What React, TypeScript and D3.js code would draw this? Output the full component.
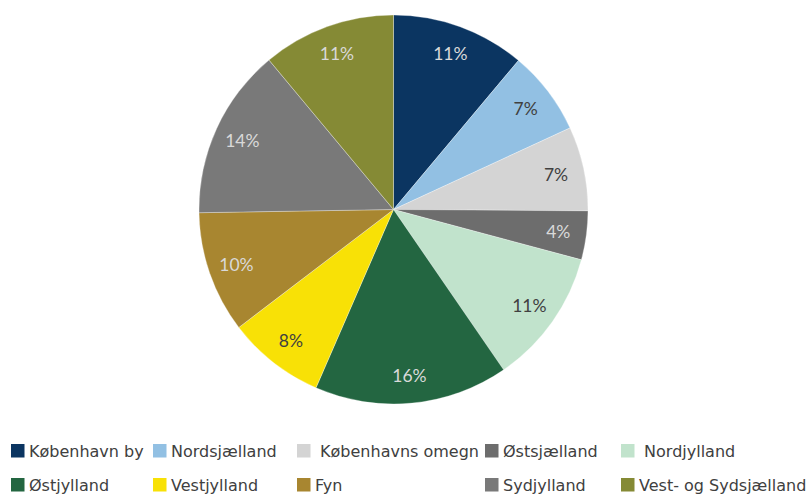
import React from "react";
import * as d3 from "d3";

const regions = [
  "København by",
  "Nordsjælland",
  "Københavns omegn",
  "Østsjælland",
  "Nordjylland",
  "Østjylland",
  "Vestjylland",
  "Fyn",
  "Sydjylland",
  "Vest- og Sydsjælland",
];
const shares = [11.1, 7.0, 7.0, 4.05, 11.25, 16.1, 8.1, 10.1, 14.2, 11.05];
const labels = ["11%", "7%", "7%", "4%", "11%", "16%", "8%", "10%", "14%", "11%"];
const colors = [
  "#0b3561",
  "#92c0e3",
  "#d4d4d4",
  "#6d6d6d",
  "#c1e3cc",
  "#236641",
  "#f8e106",
  "#a88630",
  "#797979",
  "#858a35",
];
const labelColors = [
  "#d9d9d9",
  "#404040",
  "#404040",
  "#d9d9d9",
  "#404040",
  "#d9d9d9",
  "#404040",
  "#d9d9d9",
  "#d9d9d9",
  "#d9d9d9",
];
const legendText = [
  "København by",
  "Nordsjælland",
  " Københavns omegn",
  "Østsjælland",
  " Nordjylland",
  "Østjylland",
  "Vestjylland",
  "Fyn",
  "Sydjylland",
  "Vest- og Sydsjælland",
];
const legendCols = [11, 153, 297, 485, 621];

export default function App() {
  const W = 812;
  const H = 495;
  const cx = 393.5;
  const cy = 209.5;
  const R = 194.5;
  const pie = d3.pie<number>().sort(null).value((d) => d);
  const arcs = pie(shares);
  const arc = d3.arc<d3.PieArcDatum<number>>().innerRadius(0).outerRadius(R);
  const labelArc = d3
    .arc<d3.PieArcDatum<number>>()
    .innerRadius(R * 0.855)
    .outerRadius(R * 0.855);

  return (
    <svg
      width={W}
      height={H}
      style={{ position: "absolute", left: 0, top: 0, background: "#fff" }}
    >
      <g transform={`translate(${cx},${cy})`}>
        {arcs.map((a, i) => (
          <path
            key={i}
            d={arc(a) || ""}
            fill={colors[i]}
            stroke="#ffffff"
            strokeOpacity={0.5}
            strokeWidth={0.6}
          />
        ))}
        {arcs.map((a, i) => {
          const [x, y] = labelArc.centroid(a);
          return (
            <text
              key={i}
              x={x}
              y={y}
              textAnchor="middle"
              dominantBaseline="central"
              fontFamily="Lato, 'Open Sans', sans-serif"
              fontSize={17.5}
              fill={labelColors[i]}
            >
              {labels[i]}
            </text>
          );
        })}
      </g>
      <g fontFamily="'DejaVu Sans', sans-serif" fontSize={16} fill="#404040">
        {legendText.map((t, i) => {
          const row = Math.floor(i / 5);
          const col = i % 5;
          const x = legendCols[col];
          const y = 444 + row * 34;
          return (
            <g key={i}>
              <rect x={x} y={y} width={13.5} height={13.5} fill={colors[i]} />
              <text x={x + 18} y={y + 7} dominantBaseline="central" style={{ whiteSpace: "pre" }}>
                {t}
              </text>
            </g>
          );
        })}
      </g>
    </svg>
  );
}
